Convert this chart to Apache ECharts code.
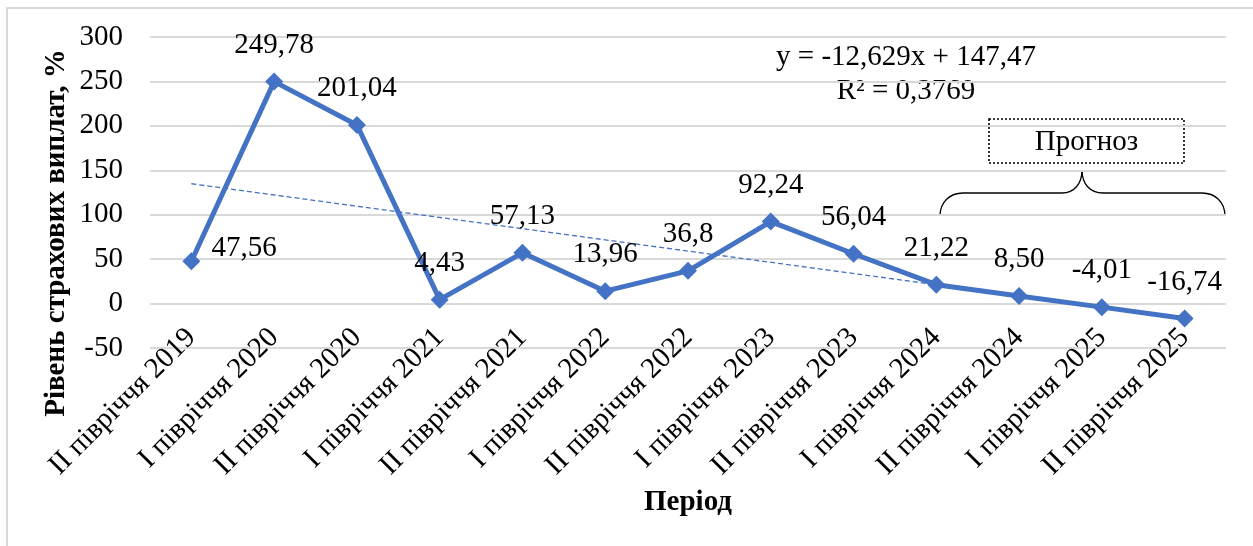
<!DOCTYPE html>
<html>
<head>
<meta charset="utf-8">
<script src="https://cdn.jsdelivr.net/npm/echarts@6/dist/echarts.min.js"></script>
<style>
  html, body { margin: 0; padding: 0; background: #fff; }
  #chart { width: 1253px; height: 546px; }
</style>
</head>
<body>
<div id="chart"></div>
<script>
// періоди
var periods = [
  'II півріччя 2019', 'I півріччя 2020', 'II півріччя 2020', 'I півріччя 2021',
  'II півріччя 2021', 'I півріччя 2022', 'II півріччя 2022', 'I півріччя 2023',
  'II півріччя 2023', 'I півріччя 2024', 'II півріччя 2024', 'I півріччя 2025',
  'II півріччя 2025'
];
// рівень страхових виплат, %
var payoutLevel = [47.56, 249.78, 201.04, 4.43, 57.13, 13.96, 36.8, 92.24, 56.04, 21.22, 8.50, -4.01, -16.74];
var pointLabels = ['47,56', '249,78', '201,04', '4,43', '57,13', '13,96', '36,8', '92,24', '56,04', '21,22', '8,50', '-4,01', '-16,74'];
// лінія тренду (кінці, індекси категорій)
var trendIdx = [0, 9];
var trendVal = [134.84, 21.18];
var yTicks = { min: -50, max: 300, step: 50 };

var FONT = 'Liberation Serif';
var BLUE = '#4472C4';

var chart = echarts.init(document.getElementById('chart'));

var lineData = payoutLevel.map(function (v, i) {
  if (i === 0) {
    return { value: v, label: { position: 'right', distance: 11, offset: [0, -13] } };
  }
  return v;
});

function txt(s, x, y, extra) {
  var el = {
    type: 'text', x: x, y: y,
    style: { text: s, fontFamily: FONT, fontSize: 29, fill: '#000',
             align: 'center', verticalAlign: 'middle' }
  };
  if (extra) {
    for (var k in extra) el[k] = extra[k];
  }
  return el;
}

var option = {
  animation: false,
  backgroundColor: '#fff',
  textStyle: { fontFamily: FONT },
  grid: { left: 150, right: 27, top: 37, bottom: 198 },
  xAxis: {
    type: 'category',
    data: periods,
    boundaryGap: true,
    axisLine: { show: false },
    axisTick: { show: false },
    axisLabel: {
      interval: 0, rotate: 45, margin: -15,
      fontFamily: FONT, fontSize: 29, color: '#000'
    },
    name: 'Період',
    nameLocation: 'middle',
    nameGap: 128,
    nameTextStyle: { fontFamily: FONT, fontSize: 29, fontWeight: 'bold', color: '#000' }
  },
  yAxis: {
    type: 'value',
    min: yTicks.min, max: yTicks.max, interval: yTicks.step,
    axisLine: { show: false },
    axisTick: { show: false },
    axisLabel: { margin: 27, fontFamily: FONT, fontSize: 29, color: '#000' },
    splitLine: { lineStyle: { color: '#d9d9d9', width: 2 } }
  },
  series: [
    {
      type: 'line',
      silent: true,
      symbol: 'none',
      data: trendIdx.map(function (x, i) { return [x, trendVal[i]]; }),
      lineStyle: { color: BLUE, width: 1.3, type: [5, 3] },
      z: 1
    },
    {
      type: 'line',
      data: lineData,
      symbol: 'diamond',
      symbolSize: 18,
      lineStyle: { color: BLUE, width: 5 },
      itemStyle: { color: BLUE },
      label: {
        show: true, position: 'top', distance: 13,
        fontFamily: FONT, fontSize: 29, color: '#000',
        formatter: function (p) { return pointLabels[p.dataIndex]; }
      },
      z: 3
    }
  ],
  graphic: [
    // рамка діаграми
    { type: 'rect', shape: { x: 7, y: 8, width: 1300, height: 600 },
      style: { fill: null, stroke: '#d9d9d9', lineWidth: 2 }, silent: true },
    // назва осі Y
    (function () {
      var t = txt('Рівень страхових виплат, %', 57, 233, { rotation: Math.PI / 2 });
      t.style.fontWeight = 'bold';
      return t;
    })(),
    // рівняння тренду
    txt('y = -12,629x + 147,47', 906, 57),
    txt('R² = 0,3769', 906, 91),
    // прогноз
    { type: 'rect', shape: { x: 989, y: 119, width: 195, height: 44 },
      style: { fill: '#fff', stroke: '#000', lineWidth: 1.6, lineDash: [2, 2] } },
    txt('Прогноз', 1086.5, 142),
    // фігурна дужка
    { type: 'bezierCurve', shape: { x1: 940, y1: 216, cpx1: 940, cpy1: 202, cpx2: 950, cpy2: 193, x2: 963, y2: 193 },
      style: { fill: null, stroke: '#000', lineWidth: 1.3 } },
    { type: 'line', shape: { x1: 963, y1: 193, x2: 1062, y2: 193 },
      style: { stroke: '#000', lineWidth: 1.3 } },
    { type: 'bezierCurve', shape: { x1: 1062, y1: 193, cpx1: 1074, cpy1: 193, cpx2: 1082, cpy2: 184, x2: 1082, y2: 170 },
      style: { fill: null, stroke: '#000', lineWidth: 1.3 } },
    { type: 'bezierCurve', shape: { x1: 1082, y1: 170, cpx1: 1082, cpy1: 184, cpx2: 1090, cpy2: 193, x2: 1103, y2: 193 },
      style: { fill: null, stroke: '#000', lineWidth: 1.3 } },
    { type: 'line', shape: { x1: 1103, y1: 193, x2: 1202, y2: 193 },
      style: { stroke: '#000', lineWidth: 1.3 } },
    { type: 'bezierCurve', shape: { x1: 1202, y1: 193, cpx1: 1215, cpy1: 193, cpx2: 1225, cpy2: 202, x2: 1225, y2: 216 },
      style: { fill: null, stroke: '#000', lineWidth: 1.3 } }
  ]
};

chart.setOption(option);
</script>
</body>
</html>
